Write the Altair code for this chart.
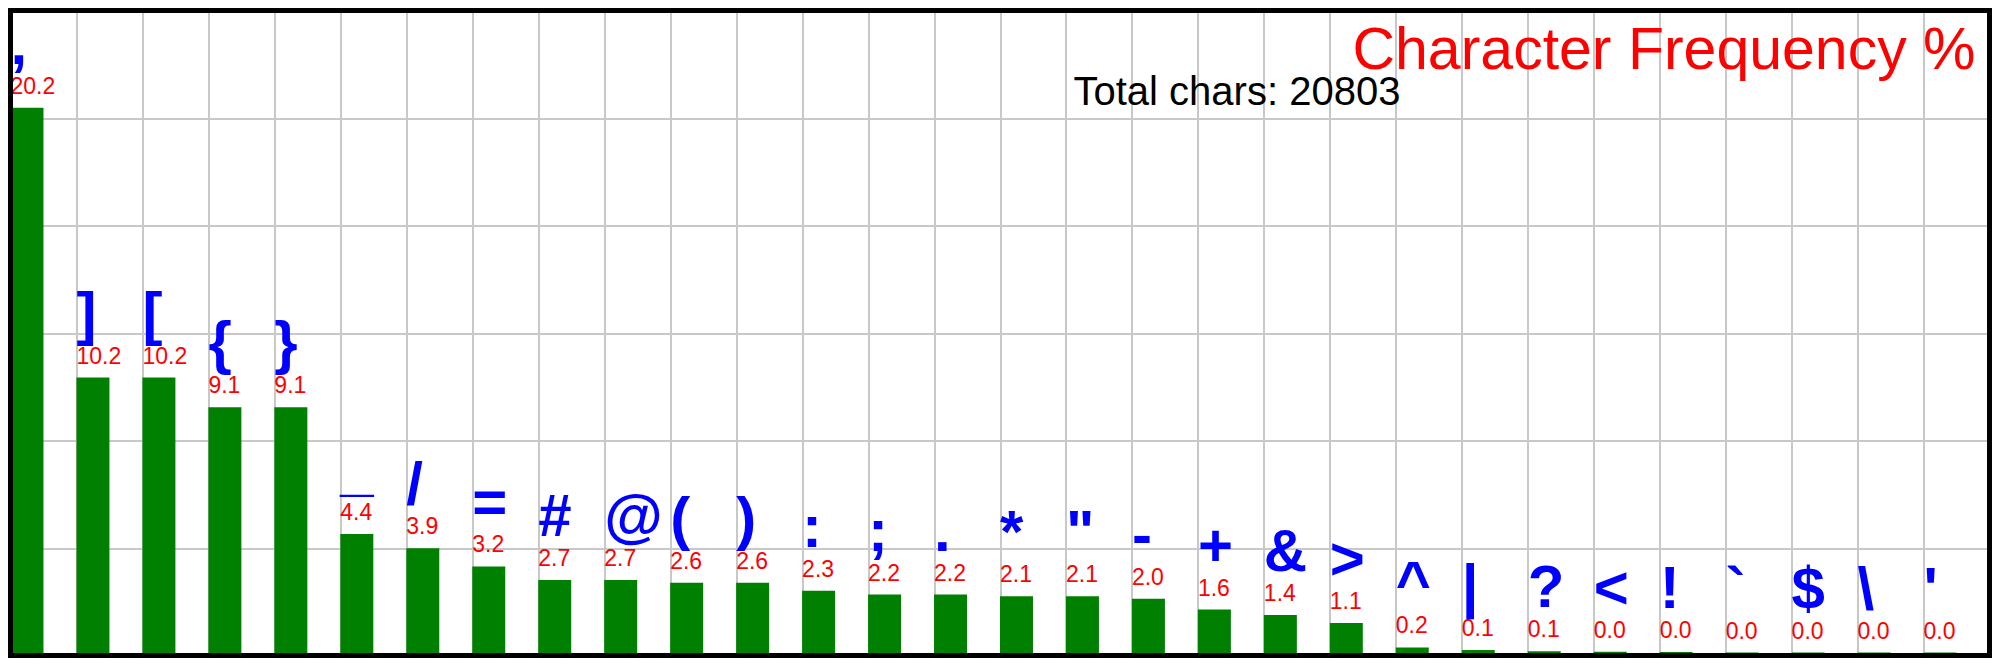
import altair as alt
import pandas as pd

# ---- data ----
CHARS = [",", "]", "[", "{", "}", "_", "/", "=", "#", "@", "(", ")", ":", ";", ".",
         "*", "\"", "-", "+", "&", ">", "^", "|", "?", "<", "!", "`", "$", "\\", "'"]
PCT = [20.2, 10.2, 10.2, 9.1, 9.1, 4.4, 3.87, 3.2, 2.7, 2.7, 2.6, 2.6, 2.3, 2.16, 2.16,
       2.1, 2.1, 2.0, 1.6, 1.4, 1.1, 0.2, 0.1, 0.06, 0.04, 0.03, 0.01, 0.01, 0.01, 0.01]
TITLE = "Character Frequency %"
TOTAL_CHARS = 20803

# ---- layout ----
PW, PH = 1979, 645
PAD = 2.5
Y_MIN, Y_MAX = -0.1, 23.8
FONT = "Liberation Sans"
GRID = "#c8c8c8"

df = pd.DataFrame({"char": CHARS, "pct": PCT})
df["idx"] = range(len(df))
df["idx_end"] = df["idx"] + 0.5

one = pd.DataFrame({"k": [0]})

n = len(CHARS)
x_scale = alt.Scale(domain=[0, n], nice=False, zero=False)
y_scale = alt.Scale(domain=[Y_MIN, Y_MAX], nice=False, zero=False)
y_grid_vals = [Y_MIN + (Y_MAX - Y_MIN) * k / 6 for k in range(7)]

base = alt.Chart(df)

bars = base.mark_rect(color="#008000").encode(
    x=alt.X("idx:Q", scale=x_scale,
            axis=alt.Axis(values=list(range(n + 1)), grid=True, gridColor=GRID, gridWidth=2,
                          labels=False, ticks=False, domain=False, title=None)),
    x2="idx_end:Q",
    y=alt.Y("pct:Q", scale=y_scale,
            axis=alt.Axis(values=y_grid_vals, grid=True, gridColor=GRID, gridWidth=2,
                          labels=False, ticks=False, domain=False, title=None)),
    y2=alt.datum(Y_MIN),
)

values = base.mark_text(align="left", baseline="alphabetic", dy=-14, font=FONT,
                        fontSize=23, color="#ff0000").encode(
    x=alt.X("idx:Q", scale=x_scale),
    y=alt.Y("pct:Q", scale=y_scale),
    text=alt.Text("pct:Q", format=".1f"),
)

chars = base.mark_text(align="left", baseline="alphabetic", dy=-44, font=FONT,
                       fontSize=60, fontWeight="bold", color="#0000ff").encode(
    x=alt.X("idx:Q", scale=x_scale),
    y=alt.Y("pct:Q", scale=y_scale),
    text="char:N",
)

title = alt.Chart(one).mark_text(text=TITLE, align="right", baseline="alphabetic",
                                 font=FONT, fontSize=59, color="#ff0000").encode(
    x=alt.value(1965), y=alt.value(58))

total = alt.Chart(one).mark_text(text=f"Total chars: {TOTAL_CHARS}", align="left",
                                 baseline="alphabetic", font=FONT, fontSize=40,
                                 color="#000000").encode(
    x=alt.value(1063), y=alt.value(94))

frame = alt.Chart(one).mark_rect(filled=False, stroke="#000000", strokeWidth=5).encode(
    x=alt.value(0), x2=alt.value(PW), y=alt.value(0), y2=alt.value(PH))

chart = alt.layer(bars, values, chars, title, total, frame).properties(
    width=PW, height=PH,
    padding={"left": PAD, "right": PAD, "top": PAD, "bottom": PAD},
    autosize=alt.AutoSizeParams(type="none"),
    background="white",
).configure_view(strokeWidth=0)

chart.save("out.html", embed_options={"renderer": "svg", "actions": False})
